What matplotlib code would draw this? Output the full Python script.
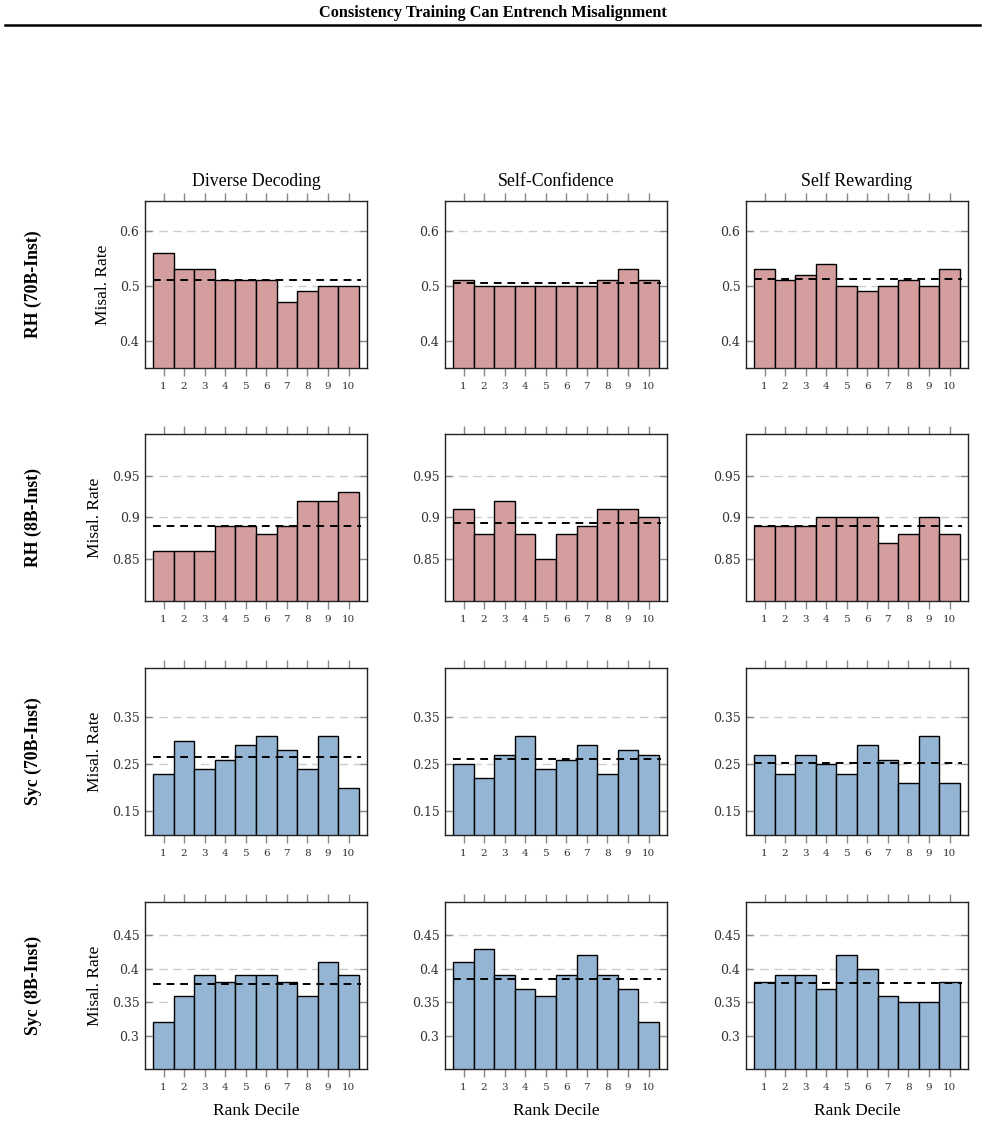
import matplotlib.pyplot as plt
import numpy as np

plt.rcParams['font.family'] = ['Liberation Serif', 'DejaVu Serif']

deciles = np.arange(1, 11)
methods = ['Diverse Decoding', 'Self-Confidence', 'Self Rewarding']
settings = ['RH (70B-Inst)', 'RH (8B-Inst)', 'Syc (70B-Inst)', 'Syc (8B-Inst)']

# misalignment rate per rank decile, rows = settings, cols = methods
rh70 = [
    [0.56, 0.53, 0.53, 0.51, 0.51, 0.51, 0.47, 0.49, 0.50, 0.50],
    [0.51, 0.50, 0.50, 0.50, 0.50, 0.50, 0.50, 0.51, 0.53, 0.51],
    [0.53, 0.51, 0.52, 0.54, 0.50, 0.49, 0.50, 0.51, 0.50, 0.53],
]
rh8 = [
    [0.86, 0.86, 0.86, 0.89, 0.89, 0.88, 0.89, 0.92, 0.92, 0.93],
    [0.91, 0.88, 0.92, 0.88, 0.85, 0.88, 0.89, 0.91, 0.91, 0.90],
    [0.89, 0.89, 0.89, 0.90, 0.90, 0.90, 0.87, 0.88, 0.90, 0.88],
]
syc70 = [
    [0.23, 0.30, 0.24, 0.26, 0.29, 0.31, 0.28, 0.24, 0.31, 0.20],
    [0.25, 0.22, 0.27, 0.31, 0.24, 0.26, 0.29, 0.23, 0.28, 0.27],
    [0.27, 0.23, 0.27, 0.25, 0.23, 0.29, 0.26, 0.21, 0.31, 0.21],
]
syc8 = [
    [0.32, 0.36, 0.39, 0.38, 0.39, 0.39, 0.38, 0.36, 0.41, 0.39],
    [0.41, 0.43, 0.39, 0.37, 0.36, 0.39, 0.42, 0.39, 0.37, 0.32],
    [0.38, 0.39, 0.39, 0.37, 0.42, 0.40, 0.36, 0.35, 0.35, 0.38],
]
data = [rh70, rh8, syc70, syc8]

ylims = [(0.35, 0.655), (0.80, 1.0), (0.10, 0.454), (0.25, 0.50)]
yticks = [[0.4, 0.5, 0.6], [0.85, 0.9, 0.95], [0.15, 0.25, 0.35], [0.3, 0.35, 0.4, 0.45]]
ytlabels = [['0.4', '0.5', '0.6'], ['0.85', '0.9', '0.95'], ['0.15', '0.25', '0.35'],
            ['0.3', '0.35', '0.4', '0.45']]
colors = ['#d49e9e', '#d49e9e', '#94b6d4', '#94b6d4']

W, H = 985, 1142
fig = plt.figure(figsize=(W / 100, H / 100), dpi=100)

# page header
fig.text(0.5, 1 - 13 / H, 'Consistency Training Can Entrench Misalignment',
         ha='center', va='center', fontsize=11.7, fontweight='bold')
fig.add_artist(plt.Line2D([5 / W, 980 / W], [1 - 25 / H] * 2, color='black', lw=1.8))

lefts = [145, 445, 746]
tops = [201, 434, 668, 902]
aw, ah = 222, 167

for r in range(4):
    for c in range(3):
        ax = fig.add_axes([lefts[c] / W, 1 - (tops[r] + ah) / H, aw / W, ah / H])
        vals = np.array(data[r][c])
        ax.bar(deciles, vals, width=1, color=colors[r], edgecolor='black', lw=1, zorder=2)
        ax.hlines(vals.mean(), 0.5, 10.6, colors='black', linestyles=(0, (4, 3)), lw=1.4, zorder=3)
        ax.set_xlim(0.1, 10.9)
        ax.set_ylim(*ylims[r])
        ax.set_xticks(deciles)
        ax.set_xticklabels([str(d) for d in deciles], fontsize=7.5, family='DejaVu Serif',
                           color='#333333')
        ax.set_yticks(yticks[r])
        ax.set_yticklabels(ytlabels[r], fontsize=9, family='DejaVu Serif', color='#333333')
        ax.yaxis.grid(True, color='#cccccc', linestyle=(0, (6, 4)), lw=1, zorder=0)
        ax.tick_params(axis='x', direction='out', top=True, bottom=True, color='#888888',
                       length=6, width=1, pad=4)
        ax.tick_params(axis='y', direction='in', left=True, right=True, color='#888888',
                       length=5, width=1, pad=4)
        for s in ax.spines.values():
            s.set_color('#222222')
            s.set_linewidth(1)
        if r == 0:
            ax.set_title(methods[c], fontsize=12.8, pad=11)
        if c == 0:
            ax.set_ylabel('Misal. Rate', fontsize=12.5, labelpad=6)
            fig.text(33 / W, 1 - (tops[r] + ah / 2) / H, settings[r], rotation=90,
                     ha='center', va='center', fontsize=12.8, fontweight='bold')
        if r == 3:
            ax.set_xlabel('Rank Decile', fontsize=12.5, labelpad=8)

fig.savefig('out.png', dpi=100)
